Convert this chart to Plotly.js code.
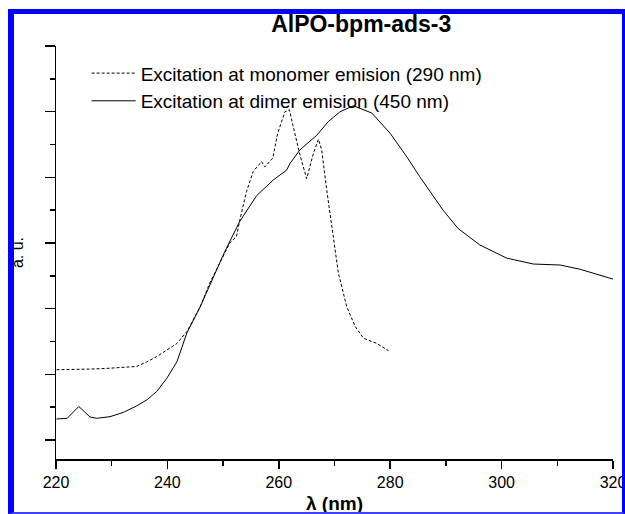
<!DOCTYPE html>
<html>
<head>
<meta charset="utf-8">
<script src="https://cdn.plot.ly/plotly-3.0.1.min.js"></script>
<style>
html,body{margin:0;padding:0;background:#fff;}
#wrap{position:relative;width:625px;height:514px;overflow:hidden;}
#chart{width:625px;height:514px;}
#frame{position:absolute;left:8px;top:9px;width:617px;height:505px;box-sizing:border-box;
 border-left:6px solid #0000ff;border-top:5px solid #0000ff;border-right:3px solid #0000ff;border-bottom:2px solid #4040ff;pointer-events:none;}
</style>
</head>
<body>
<div id="wrap"><div id="chart"></div><div id="frame"></div></div>
<script>
// Excitation at monomer emission (290 nm) — dashed
const monoX = [220.1,223.1,226.1,229.1,232.7,234.5,236.3,238.1,239.9,241.7,243.5,245.9,247.6,249.4,251.2,252.4,253.0,254.2,255.4,256.9,257.5,258.9,259.8,261.1,261.9,262.6,263.8,265.0,266.2,267.1,267.7,268.6,269.8,270.7,272.2,273.7,275.2,277.6,279.7];
const monoY = [1.07,1.07,1.08,1.09,1.11,1.12,1.19,1.27,1.37,1.47,1.65,2.03,2.39,2.69,3.00,3.10,3.35,3.78,4.09,4.24,4.16,4.29,4.67,5.00,5.03,4.77,4.34,3.98,4.36,4.58,4.42,3.81,3.10,2.54,2.03,1.73,1.55,1.47,1.36];
// Excitation at dimer emission (450 nm) — solid
const dimX = [220.1,222.0,224.1,226.1,227.3,229.7,232.1,234.5,236.3,238.1,239.9,241.7,243.5,245.9,250.3,253.0,256.0,259.0,261.4,262.0,263.8,266.8,268.9,271.0,273.4,276.7,280.0,283.0,285.3,289.5,292.2,296.1,300.9,305.7,310.5,314.1,320.0];
const dimY = [0.32,0.33,0.51,0.35,0.33,0.355,0.42,0.52,0.61,0.74,0.94,1.19,1.63,2.03,2.87,3.33,3.72,3.96,4.11,4.21,4.42,4.64,4.85,5.00,5.09,4.98,4.67,4.31,4.01,3.50,3.22,2.97,2.77,2.68,2.665,2.60,2.45];
const seriesNames = ["Excitation at monomer emision (290 nm)", "Excitation at dimer emision (450 nm)"];
const chartTitle = "AlPO-bpm-ads-3";
const xTitle = "λ (nm)";
const yTitle = "a. u.";

const traces = [
 {x: monoX, y: monoY, type:'scatter', mode:'lines', name: seriesNames[0],
  line:{color:'#000', width:1, dash:'3px,2px'}},
 {x: dimX, y: dimY, type:'scatter', mode:'lines', name: seriesNames[1],
  line:{color:'#000', width:1}}
];
const font = 'Arial, "Liberation Sans", Helvetica, sans-serif';
const layout = {
 width:625, height:514,
 margin:{l:56, r:12, t:46, b:55},
 paper_bgcolor:'#fff', plot_bgcolor:'#fff',
 font:{family:font, color:'#000'},
 title:{text:'<b>'+chartTitle+'</b>', font:{size:23, family:font, color:'#000'},
  xref:'paper', x:0.548, xanchor:'center', yref:'container', y:0.953, yanchor:'middle'},
 showlegend:true,
 legend:{x:0.055, y:0.98, xanchor:'left', yanchor:'top', font:{size:19, family:font},
  bgcolor:'rgba(0,0,0,0)', itemwidth:44, tracegroupgap:0},
 xaxis:{range:[220,320], tick0:220, dtick:20, ticks:'outside', ticklen:8, tickwidth:1.5, tickcolor:'#000',
  minor:{dtick:10, ticks:'outside', ticklen:5, tickwidth:1.5, tickcolor:'#000'},
  showline:true, linewidth:1.5, linecolor:'#000', showgrid:false, zeroline:false,
  ticklabeloverflow:'allow',
  tickfont:{size:16, family:font},
  title:{text:'<b>'+xTitle+'</b>', font:{size:19, family:font}, standoff:33}},
 yaxis:{range:[-0.29,6.001], tick0:0, dtick:1, ticks:'outside', ticklen:10, tickwidth:1.5, tickcolor:'#000',
  minor:{dtick:0.5, ticks:'outside', ticklen:5, tickwidth:1.5, tickcolor:'#000'},
  showticklabels:false, showline:true, linewidth:1.5, linecolor:'#000', showgrid:false, zeroline:false,
  title:{text:yTitle, font:{size:16, family:font}, standoff:17}}
};
Plotly.newPlot('chart', traces, layout, {displayModeBar:false, staticPlot:true});
</script>
</body>
</html>
